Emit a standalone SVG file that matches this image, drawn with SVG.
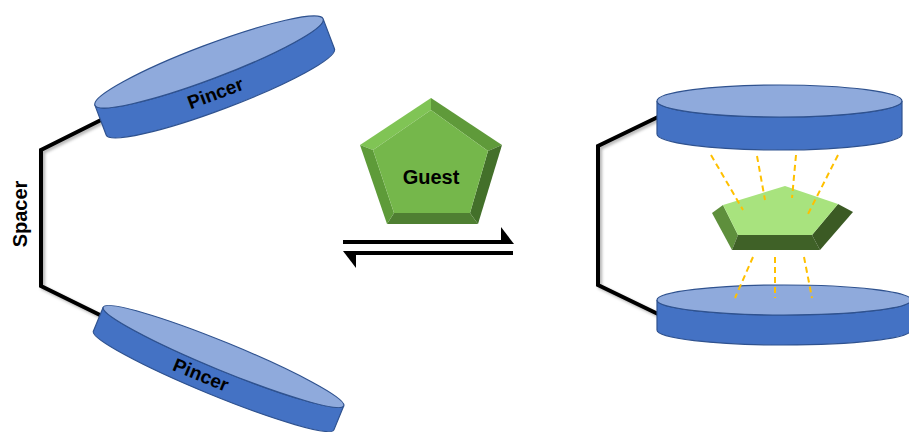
<svg xmlns="http://www.w3.org/2000/svg" width="909" height="432" viewBox="0 0 909 432">
  <defs>
    <style>
      .side { fill: #4472c4; stroke: #2f528f; stroke-width: 1.2; }
      .top { fill: #8faadc; stroke: #2f528f; stroke-width: 1.2; }
      .label { font-family: "Liberation Sans", Arial, sans-serif; font-weight: bold; fill: #000; }
      .link { fill: none; stroke: #000; stroke-width: 4; stroke-linejoin: miter; }
      .bind { fill: none; stroke: #ffc000; stroke-width: 2; stroke-dasharray: 6 4; }
    </style>
    <filter id="soft-shadow" x="-20%" y="-20%" width="140%" height="140%">
      <feDropShadow dx="2" dy="2" stdDeviation="1.5" flood-color="#000" flood-opacity="0.3"/>
    </filter>
  </defs>

  <rect width="909" height="432" fill="#fff"/>

  <!-- connectors: spacer linkers and equilibrium arrows -->
  <g id="connectors">
    <g filter="url(#soft-shadow)">
      <polyline class="link" points="101,120 41,150 41,286 102,316"/>
      <polyline class="link" points="658,117 598,146 598,285 658,314"/>
    </g>
    <!-- forward / reverse half-arrows -->
    <line x1="343" y1="242" x2="510" y2="242" stroke="#000" stroke-width="4"/>
    <polygon points="501,227 514,244 501,244" fill="#000"/>
    <line x1="346" y1="253" x2="513" y2="253" stroke="#000" stroke-width="4"/>
    <polygon points="343,251 356,268 356,251" fill="#000"/>
  </g>

  <!-- spacer label -->
  <text class="label" font-size="20" text-anchor="middle" transform="translate(27,214) rotate(-90)">Spacer</text>

  <!-- open host: upper pincer -->
  <g id="pincer-open-top" transform="translate(209,62) rotate(-20.7)">
    <path class="side" d="M -122,0 L -122,32 A 122 17 0 0 0 122,32 L 122,0 A 122 17 0 0 1 -122,0 Z"/>
    <ellipse class="top" cx="0" cy="0" rx="122" ry="17"/>
    <text class="label" font-size="19" text-anchor="middle" x="-5" y="38">Pincer</text>
  </g>

  <!-- open host: lower pincer -->
  <g id="pincer-open-bottom" transform="translate(223.5,356.5) rotate(22.3)">
    <path class="side" d="M -130,0 L -130,26 A 130 14 0 0 0 130,26 L 130,0 A 130 14 0 0 1 -130,0 Z"/>
    <ellipse class="top" cx="0" cy="0" rx="130" ry="14"/>
    <text class="label" font-size="19" text-anchor="middle" x="-14" y="32">Pincer</text>
  </g>

  <!-- free guest -->
  <g id="guest">
    <polygon points="431,98 502,145 488,151 431,110" fill="#5f9a3a"/>
    <polygon points="431,98 431,110 373,150 360,145" fill="#80c455"/>
    <polygon points="502,145 478,224 470,213 488,151" fill="#43702a"/>
    <polygon points="478,224 387,224 394,213 470,213" fill="#4f7f32"/>
    <polygon points="387,224 360,145 373,150 394,213" fill="#5e9b39"/>
    <polygon points="431,110 488,151 470,213 394,213 373,150" fill="#75b74b"/>
    <text class="label" font-size="20" text-anchor="middle" x="431" y="184">Guest</text>
  </g>

  <!-- closed host: upper pincer -->
  <g id="pincer-closed-top" transform="translate(779.5,101)">
    <path class="side" d="M -122.5,0 L -122.5,33 A 122.5 16 0 0 0 122.5,33 L 122.5,0 A 122.5 16 0 0 1 -122.5,0 Z"/>
    <ellipse class="top" cx="0" cy="0" rx="122.5" ry="16"/>
  </g>

  <!-- closed host: lower pincer -->
  <g id="pincer-closed-bottom" transform="translate(784,300)">
    <path class="side" d="M -127,0 L -127,30 A 127 15 0 0 0 127,30 L 127,0 A 127 15 0 0 1 -127,0 Z"/>
    <ellipse class="top" cx="0" cy="0" rx="127" ry="15"/>
  </g>

  <!-- bound guest, seen edge-on -->
  <g id="guest-bound">
    <polygon points="723,205 712,213 732,250 738,235" fill="#5e8f3c"/>
    <polygon points="738,235 732,250 820,250 812,235" fill="#3f6127"/>
    <polygon points="838,204 853,212 820,250 812,235" fill="#3b5a24"/>
    <polygon points="785,186 838,204 812,235 738,235 723,205" fill="#a8e37e"/>
  </g>

  <!-- host–guest contacts, drawn over the bound guest -->
  <g id="contacts">
    <line class="bind" x1="711" y1="155" x2="743" y2="210"/>
    <line class="bind" x1="757" y1="156" x2="765" y2="200"/>
    <line class="bind" x1="796" y1="155" x2="792" y2="198"/>
    <line class="bind" x1="838" y1="155" x2="808" y2="214"/>
    <line class="bind" x1="753" y1="257" x2="735" y2="298"/>
    <line class="bind" x1="775" y1="257" x2="775" y2="298"/>
    <line class="bind" x1="804" y1="257" x2="812" y2="298"/>
  </g>
</svg>
